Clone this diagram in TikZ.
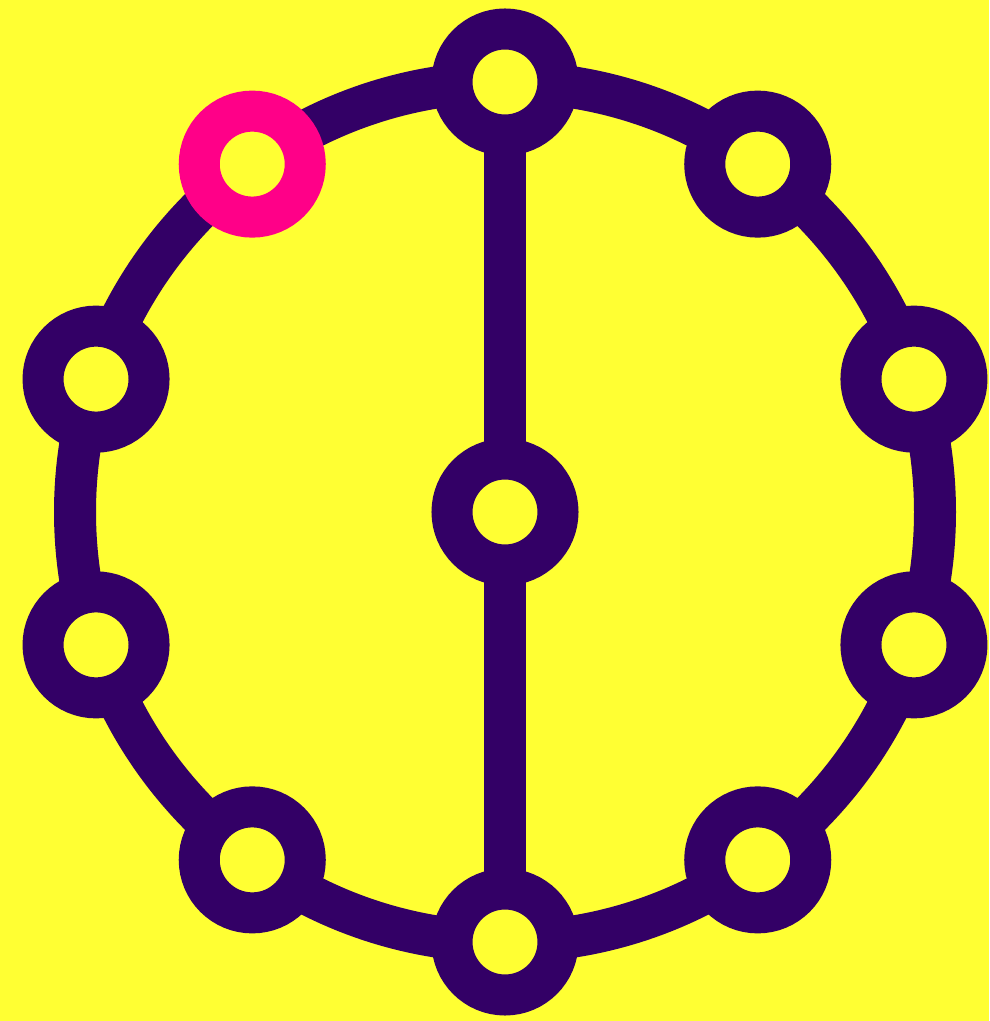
\documentclass[tikz,border=0pt]{standalone}
\usetikzlibrary{positioning,calc}
\definecolor{morado}{RGB}{51,0,102}
\definecolor{rosa}{RGB}{255,0,136}
\definecolor{amarillo}{RGB}{255,255,51}
\tikzset{
  nodo/.style={circle, draw=morado, fill=amarillo, line width=41pt, minimum size=106pt, inner sep=0pt, outer sep=0pt},
  nodorosa/.style={nodo, draw=rosa},
  anillo/.style={draw=morado, line width=42pt},
  eje/.style={draw=morado, line width=42pt},
}

\begin{document}
\begin{tikzpicture}[x=1pt, y=1pt]
  \fill[amarillo] (0,0) rectangle (989,1021);
  \useasboundingbox (0,0) rectangle (989,1021);
  \coordinate (o) at (505,509);
  % outer ring
  \draw[anillo] (o) circle[radius=430pt];
  % ring nodes
  \foreach \i in {0,2,3,4,5,6,7,8,9}
    \node[nodo] (n\i) at ($(o)+({90+36*\i}:430pt)$) {};
  \node[nodorosa] (n1) at ($(o)+(126:430pt)$) {};
  \node[nodo] (centro) at (o) {};
  % spine
  \draw[eje] (n0) -- (centro);
  \draw[eje] (centro) -- (n5);
\end{tikzpicture}
\end{document}
